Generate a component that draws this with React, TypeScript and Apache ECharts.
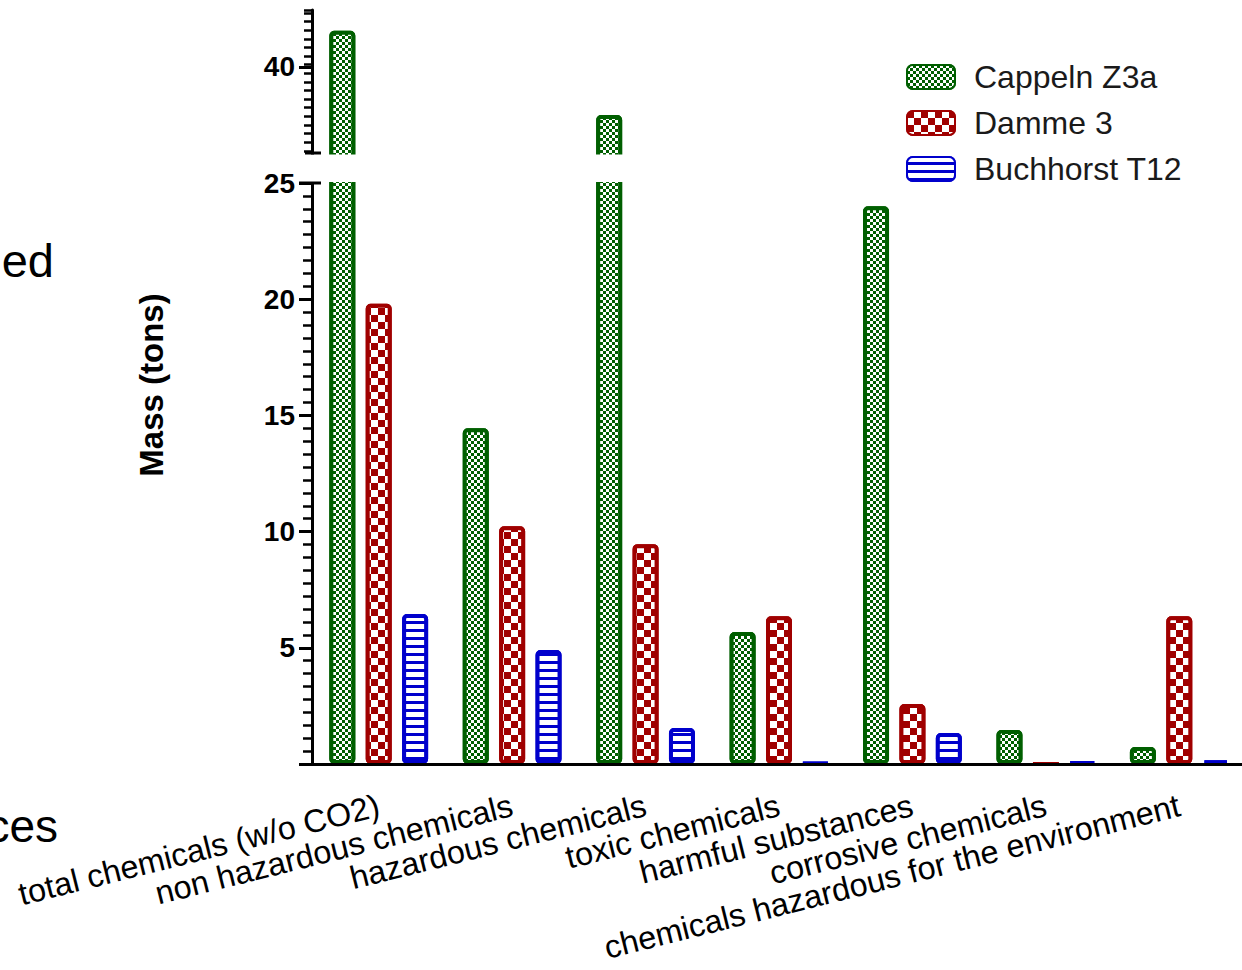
import React, { useEffect, useRef } from "react";
import * as echarts from "echarts";

const categories = [
  "total chemicals (w/o CO2)",
  "non hazardous chemicals",
  "hazardous chemicals",
  "toxic chemicals",
  "harmful substances",
  "corrosive chemicals",
  "chemicals hazardous for the environment",
];
const seriesNames = ["Cappeln Z3a", "Damme 3", "Buchhorst T12"];
const cappeln = [42.1, 14.45, 37.2, 5.68, 24.0, 1.46, 0.73];
const damme = [19.8, 10.23, 9.46, 6.36, 2.58, 0.01, 6.36];
const buchhorst = [6.45, 4.9, 1.55, 0.04, 1.33, 0.08, 0.15];
const lowerTicks = [0, 5, 10, 15, 20, 25];
const upperLabel = [40];
const upperRange = [35, 43.3];

const FONT = "'Liberation Sans', Arial, sans-serif";
const colors = ["#005f00", "#a00000", "#0000cc"];
const decals: any[] = [
  {
    symbol: "rect",
    symbolSize: 1,
    symbolKeepAspect: false,
    color: "#ffffff",
    dashArrayX: [[3, 3], [0, 3, 3, 0]],
    dashArrayY: [3, 0],
  },
  {
    symbol: "rect",
    symbolSize: 1,
    symbolKeepAspect: false,
    color: "#ffffff",
    dashArrayX: [[7, 7], [0, 7, 7, 0]],
    dashArrayY: [7, 0],
  },
  {
    symbol: "rect",
    symbolSize: 1,
    symbolKeepAspect: false,
    color: "#ffffff",
    dashArrayX: [1, 0],
    dashArrayY: [5, 2.6],
  },
];
const dataSets = [cappeln, damme, buchhorst];

export default function App() {
  const ref = useRef<HTMLDivElement>(null);
  useEffect(() => {
    if (!ref.current) return;
    const chart = echarts.init(ref.current, null, { renderer: "svg" });
    const gridLeft = 312;
    const gridWidth = 934;
    // segment geometry (pixels)
    const upTop = 10;
    const upBottom = 153; // y of value 35
    const lowTop = 183; // y of value 25
    const lowBottom = 764; // y of value 0
    const mid = (upBottom + lowTop) / 2; // both grids meet inside the hidden gap
    const lowMaxTick = lowerTicks[lowerTicks.length - 1];
    const lowPx = (lowBottom - lowTop) / lowMaxTick;
    const lowMax = lowMaxTick + (lowTop - mid) / lowPx;
    const upPx = (upBottom - upTop) / (upperRange[1] - upperRange[0]);
    const upMin = upperRange[0] - (mid - upBottom) / upPx;

    const series: any[] = [];
    [0, 1].forEach((g) => {
      seriesNames.forEach((name, i) => {
        series.push({
          type: "bar",
          name,
          xAxisIndex: g,
          yAxisIndex: g === 0 ? 0 : 2,
          data: dataSets[i],
          barWidth: 26,
          barGap: "40%",
          clip: true,
          itemStyle: {
            color: colors[i],
            borderColor: colors[i],
            borderWidth: 4,
            borderRadius: 3,
            decal: decals[i],
          },
        });
      });
    });
    const tickLabelStyle = {
      fontFamily: FONT,
      fontWeight: "bold",
      fontSize: 28,
      color: "#000",
    };
    const option: any = {
      animation: false,
      backgroundColor: "#ffffff",
      grid: [
        {
          left: gridLeft,
          top: upTop,
          width: gridWidth,
          height: mid - upTop,
          containLabel: false,
          outerBoundsMode: "none",
        },
        {
          left: gridLeft,
          top: mid,
          width: gridWidth,
          height: lowBottom - mid,
          containLabel: false,
          outerBoundsMode: "none",
        },
      ],
      legend: {
        data: seriesNames,
        orient: "vertical",
        left: 901,
        top: 56,
        z: 30,
        itemWidth: 48,
        itemHeight: 24,
        itemGap: 14,
        textStyle: {
          fontFamily: FONT,
          fontSize: 32,
          color: "#1a1a1a",
          lineHeight: 32,
          padding: [0, 0, 0, 14],
        },
      },
      xAxis: [
        {
          type: "category",
          gridIndex: 0,
          data: categories,
          show: false,
        },
        {
          type: "category",
          gridIndex: 1,
          data: categories,
          z: 10,
          axisLine: { lineStyle: { color: "#000", width: 3 } },
          axisTick: {
            alignWithLabel: true,
            length: 12,
            lineStyle: { color: "#000", width: 3 },
          },
          axisLabel: {
            interval: 0,
            rotate: 14,
            margin: 41,
            fontFamily: FONT,
            fontSize: 32.4,
            color: "#000",
          },
        },
      ],
      yAxis: [
        {
          type: "value",
          gridIndex: 0,
          min: upMin,
          max: upperRange[1],
          interval: 0.5,
          position: "left",
          z: 10,
          axisLine: { show: true, lineStyle: { color: "#000", width: 3 } },
          axisTick: { show: true, length: 8, lineStyle: { color: "#000", width: 2.5 } },
          axisLabel: { show: false },
          splitLine: { show: false },
        },
        {
          type: "value",
          gridIndex: 0,
          min: upMin,
          max: upperRange[1],
          position: "left",
          z: 10,
          axisLine: { show: false },
          axisTick: {
            show: true,
            customValues: upperLabel,
            length: 13,
            lineStyle: { color: "#000", width: 3 },
          },
          axisLabel: {
            customValues: upperLabel,
            margin: 17,
            ...tickLabelStyle,
          },
          splitLine: { show: false },
        },
        {
          type: "value",
          gridIndex: 1,
          min: lowerTicks[0],
          max: lowMax,
          interval: 5,
          position: "left",
          z: 10,
          axisLine: { show: true, lineStyle: { color: "#000", width: 3 } },
          axisTick: { show: true, length: 13, lineStyle: { color: "#000", width: 3 } },
          minorTick: { show: true, splitNumber: 9, length: 9, lineStyle: { color: "#000", width: 2.5 } },
          axisLabel: {
            margin: 17,
            ...tickLabelStyle,
            formatter: (v: number) =>
              v !== 0 && lowerTicks.indexOf(v) >= 0 ? String(v) : "",
          },
          splitLine: { show: false },
        },
      ],
      graphic: [
        {
          type: "rect",
          shape: { x: 297, y: upBottom + 1.5, width: 1000, height: lowTop - upBottom - 2.5 },
          style: { fill: "#ffffff" },
          z: 20,
        },
        {
          type: "line",
          shape: { x1: 305, y1: upBottom, x2: 321, y2: upBottom },
          style: { stroke: "#000", lineWidth: 3 },
          z: 25,
        },
        {
          type: "line",
          shape: { x1: 299, y1: lowTop, x2: 321, y2: lowTop },
          style: { stroke: "#000", lineWidth: 3 },
          z: 25,
        },
        {
          type: "text",
          x: 151,
          y: 385,
          rotation: Math.PI / 2,
          style: {
            text: "Mass (tons)",
            fontFamily: FONT,
            fontWeight: "bold",
            fontSize: 33,
            fill: "#000",
            align: "center",
            verticalAlign: "middle",
          },
        },
        {
          type: "text",
          x: 54,
          y: 284,
          style: {
            text: "ed",
            fontFamily: FONT,
            fontSize: 47,
            fill: "#000",
            align: "right",
            verticalAlign: "bottom",
          },
        },
        {
          type: "text",
          x: 58,
          y: 849,
          style: {
            text: "ces",
            fontFamily: FONT,
            fontSize: 46,
            fill: "#000",
            align: "right",
            verticalAlign: "bottom",
          },
        },
      ],
      series,
    };
    chart.setOption(option);
    return () => chart.dispose();
  }, []);
  return (
    <div
      ref={ref}
      style={{ position: "absolute", left: 0, top: 0, width: 1242, height: 970 }}
    />
  );
}
